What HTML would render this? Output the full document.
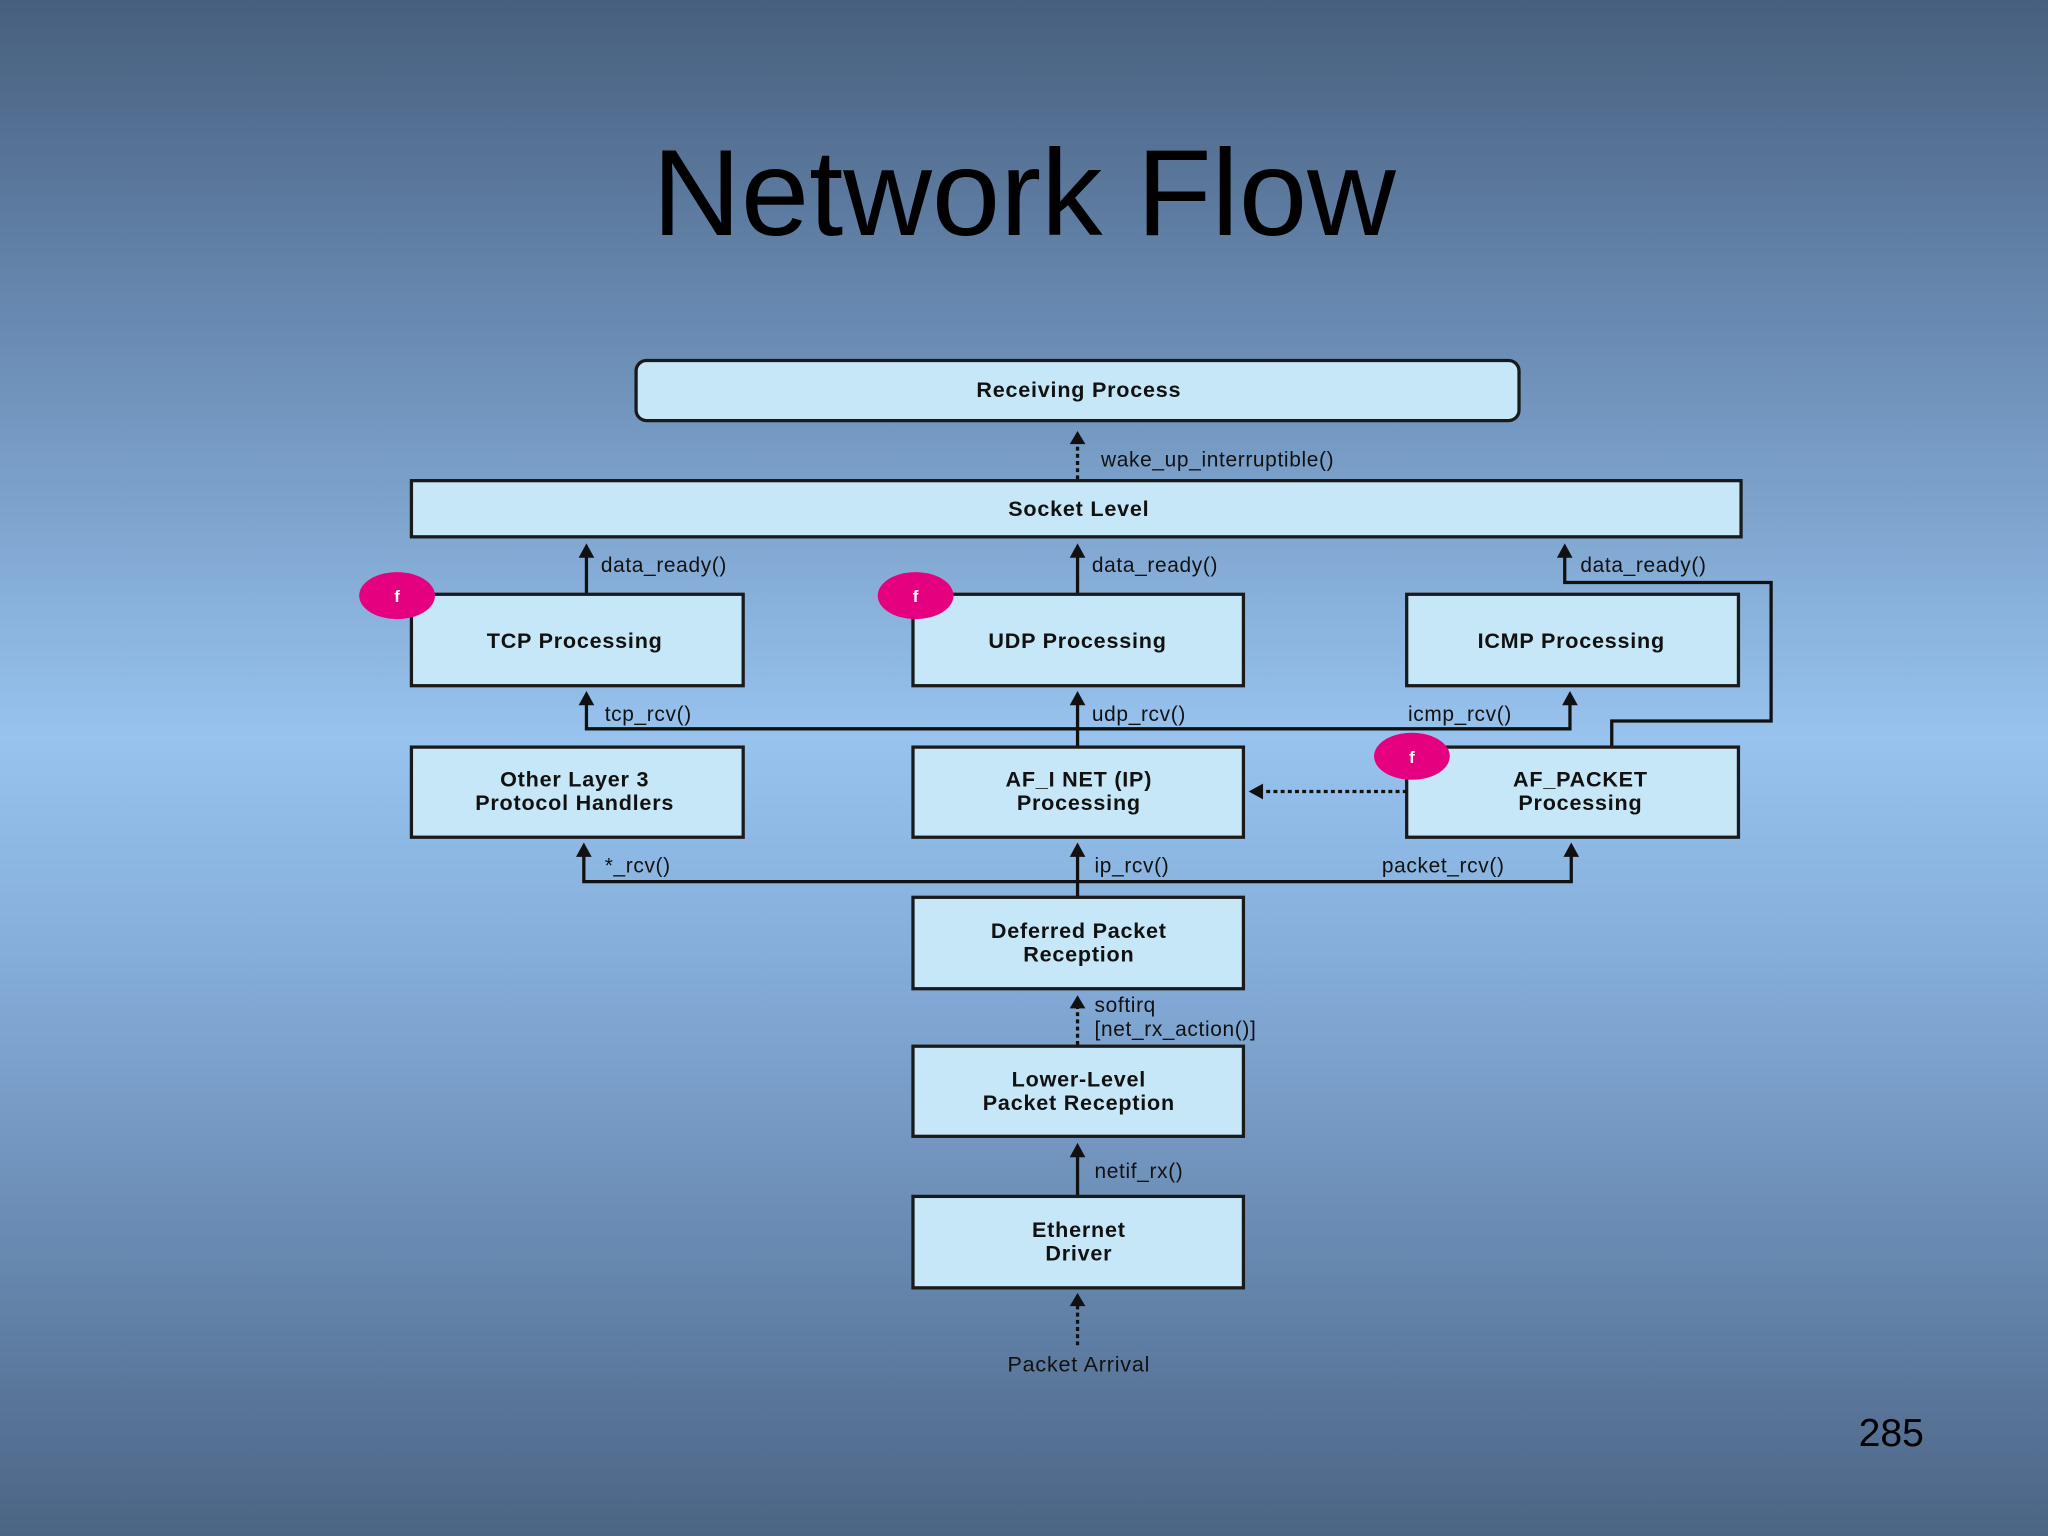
<!DOCTYPE html>
<html><head><meta charset="utf-8"><style>
html,body{margin:0;padding:0;}
body{width:2048px;height:1536px;overflow:hidden;background:linear-gradient(180deg,#475f7e 0%,#6a8cb4 22%,#97c3ee 48%,#86aedb 62%,#6a8cb4 80%,#4b6484 100%);}
svg{display:block}
text{font-family:"Liberation Sans",sans-serif;}
.b{fill:#c6e7f7;stroke:#1a1a1a;stroke-width:2.5}
.t{font-size:16.5px;fill:#111;text-anchor:middle;letter-spacing:0.6px;font-weight:bold}
.l{font-size:16px;fill:#111;letter-spacing:0.5px}
.ln{stroke:#111;stroke-width:2.5;fill:none}
.dt{stroke:#111;stroke-width:2.5;fill:none;stroke-dasharray:3,2.5}
.ar{fill:#111}
.f{fill:#e4007f}
.ft{font-size:13px;fill:#fff;font-weight:bold;text-anchor:middle}
</style></head><body>
<svg width="2048" height="1536" viewBox="0 0 1568 1176">
<text x="784" y="180" font-size="94" text-anchor="middle" fill="#000">Network Flow</text>
<text x="1448" y="1107" font-size="30" text-anchor="middle" fill="#000">285</text>

<rect class="b" x="487" y="276" width="676" height="46" rx="8"/>
<text class="t" x="826" y="304">Receiving Process</text>

<line class="dt" x1="825" y1="367" x2="825" y2="338"/>
<polygon class="ar" points="825,330 819,340 831,340"/>
<text class="l" x="843" y="357">wake_up_interruptible()</text>

<rect class="b" x="315" y="368" width="1018" height="43"/>
<text class="t" x="826" y="395">Socket Level</text>

<line class="ln" x1="449" y1="455" x2="449" y2="424"/>
<polygon class="ar" points="449,416 443,427 455,427"/>
<text class="l" x="460" y="438">data_ready()</text>
<line class="ln" x1="825" y1="455" x2="825" y2="424"/>
<polygon class="ar" points="825,416 819,427 831,427"/>
<text class="l" x="836" y="438">data_ready()</text>
<polyline class="ln" points="1234,571 1234,552 1356,552 1356,446 1198,446 1198,424"/>
<polygon class="ar" points="1198,416 1192,427 1204,427"/>
<text class="l" x="1210" y="438">data_ready()</text>

<rect class="b" x="315" y="455" width="254" height="70"/>
<text class="t" x="440" y="496">TCP Processing</text>
<rect class="b" x="699" y="455" width="253" height="70"/>
<text class="t" x="825" y="496">UDP Processing</text>
<rect class="b" x="1077" y="455" width="254" height="70"/>
<text class="t" x="1203" y="496">ICMP Processing</text>

<polyline class="ln" points="449,537 449,558 1202,558 1202,537"/>
<line class="ln" x1="825" y1="572" x2="825" y2="537"/>
<polygon class="ar" points="449,529 443,540 455,540"/>
<polygon class="ar" points="825,529 819,540 831,540"/>
<polygon class="ar" points="1202,529 1196,540 1208,540"/>
<text class="l" x="463" y="552">tcp_rcv()</text>
<text class="l" x="836" y="552">udp_rcv()</text>
<text class="l" x="1078" y="552">icmp_rcv()</text>

<rect class="b" x="315" y="572" width="254" height="69"/>
<text class="t" x="440" y="602">Other Layer 3</text>
<text class="t" x="440" y="620">Protocol Handlers</text>
<rect class="b" x="699" y="572" width="253" height="69"/>
<text class="t" x="826" y="602">AF_I NET (IP)</text>
<text class="t" x="826" y="620">Processing</text>
<rect class="b" x="1077" y="572" width="254" height="69"/>
<text class="t" x="1210" y="602">AF_PACKET</text>
<text class="t" x="1210" y="620">Processing</text>

<line class="dt" x1="1077" y1="606" x2="966" y2="606"/>
<polygon class="ar" points="956,606 967,600 967,612"/>

<polyline class="ln" points="447,653 447,675 1203,675 1203,653"/>
<line class="ln" x1="825" y1="687" x2="825" y2="653"/>
<polygon class="ar" points="447,645 441,656 453,656"/>
<polygon class="ar" points="825,645 819,656 831,656"/>
<polygon class="ar" points="1203,645 1197,656 1209,656"/>
<text class="l" x="463" y="668">*_rcv()</text>
<text class="l" x="838" y="668">ip_rcv()</text>
<text class="l" x="1058" y="668">packet_rcv()</text>

<rect class="b" x="699" y="687" width="253" height="70"/>
<text class="t" x="826" y="718">Deferred Packet</text>
<text class="t" x="826" y="736">Reception</text>

<line class="dt" x1="825" y1="800" x2="825" y2="770"/>
<polygon class="ar" points="825,762 819,772 831,772"/>
<text class="l" x="838" y="775">softirq</text>
<text class="l" x="838" y="793">[net_rx_action()]</text>

<rect class="b" x="699" y="801" width="253" height="69"/>
<text class="t" x="826" y="832">Lower-Level</text>
<text class="t" x="826" y="850">Packet Reception</text>

<line class="ln" x1="825" y1="915" x2="825" y2="883"/>
<polygon class="ar" points="825,875 819,886 831,886"/>
<text class="l" x="838" y="902">netif_rx()</text>

<rect class="b" x="699" y="916" width="253" height="70"/>
<text class="t" x="826" y="947">Ethernet</text>
<text class="t" x="826" y="965">Driver</text>

<line class="dt" x1="825" y1="1030" x2="825" y2="998"/>
<polygon class="ar" points="825,990 819,1000 831,1000"/>
<text class="t" x="826" y="1050" style="font-weight:normal">Packet Arrival</text>

<ellipse class="f" cx="304" cy="456" rx="29" ry="18"/>
<text class="ft" x="304" y="461">f</text>
<ellipse class="f" cx="701" cy="456" rx="29" ry="18"/>
<text class="ft" x="701" y="461">f</text>
<ellipse class="f" cx="1081" cy="579" rx="29" ry="18"/>
<text class="ft" x="1081" y="584">f</text>
</svg>
</body></html>
